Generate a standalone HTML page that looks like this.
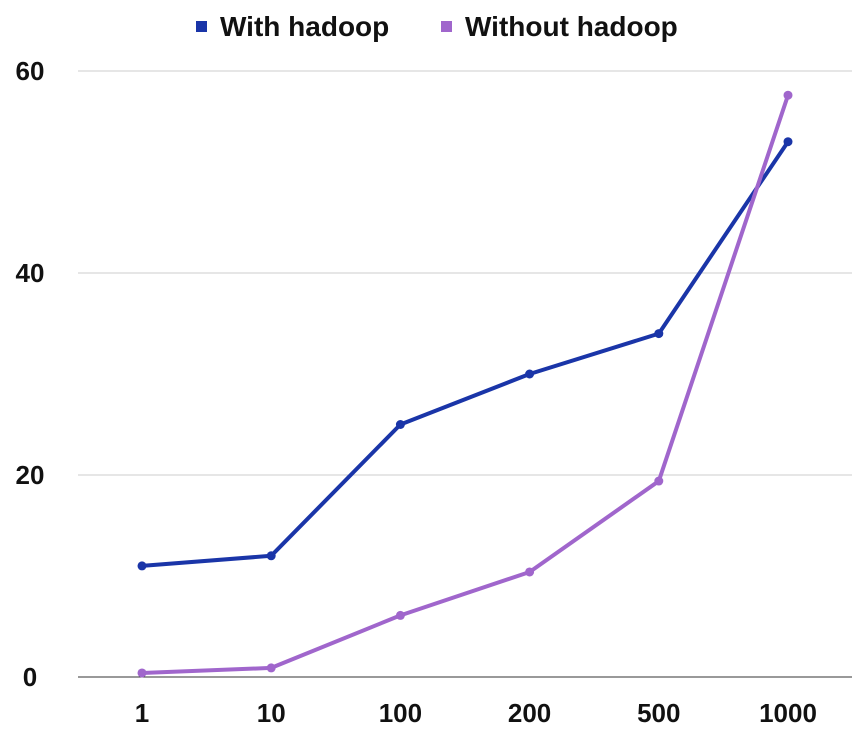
<!DOCTYPE html>
<html><head><meta charset="utf-8"><style>
html,body{margin:0;padding:0;background:#fff;}
svg{display:block;font-family:"Liberation Sans",sans-serif;font-weight:bold;}
</style></head><body>
<svg id="chart" width="855" height="751"></svg>
<script>
const categories = ["1","10","100","200","500","1000"];
const withHadoop = [11, 12, 25, 30, 34, 53];
const withoutHadoop = [0.4, 0.9, 6.1, 10.4, 19.4, 57.6];
const yTicks = [0, 20, 40, 60];
const seriesNames = ["With hadoop","Without hadoop"];

const NS="http://www.w3.org/2000/svg";
const svg=document.getElementById('chart');
const x0=142, dx=129.2, yBase=677, yPer=10.1;
const xs=i=>x0+i*dx;
const ys=v=>yBase-v*yPer;
function mk(tag,attrs,parent){const e=document.createElementNS(NS,tag);for(const k in attrs)e.setAttribute(k,attrs[k]);(parent||svg).appendChild(e);return e;}

yTicks.forEach(t=>{
  const g=mk('line',{x1:78,x2:852,y1:ys(t),y2:ys(t),stroke:t===0?'#333':'#ccc','stroke-width':1});
  
  
  const tx=mk('text',{x:30,y:ys(t)+9,'text-anchor':'middle','font-size':26,fill:'#111'});
  tx.textContent=t;
  
  
});
categories.forEach((c,i)=>{
  const tx=mk('text',{x:xs(i),y:722,'text-anchor':'middle','font-size':26,fill:'#111'});
  tx.textContent=c;
  
  
});
function series(vals,color,name){
  const p=mk('polyline',{points:vals.map((v,i)=>xs(i)+','+ys(v)).join(' '),fill:'none',stroke:color,'stroke-width':4,'stroke-linejoin':'round'});
  
  
  vals.forEach((v,i)=>{
    const c=mk('circle',{cx:xs(i),cy:ys(v),r:4.5,fill:color});
    
    
  });
}
series(withHadoop,'#1a35a8','with-hadoop');
series(withoutHadoop,'#a066cc','without-hadoop');

const legend=[[196,'#1a35a8',seriesNames[0]],[441,'#a066cc',seriesNames[1]]];
legend.forEach(([x,col,n],i)=>{
  const r=mk('rect',{x:x,y:21,width:11,height:11,fill:col});
  
  
  const t=mk('text',{x:x+24,y:36,'font-size':28,fill:'#111'});
  t.textContent=n;
  
  
});
</script>
</body></html>
